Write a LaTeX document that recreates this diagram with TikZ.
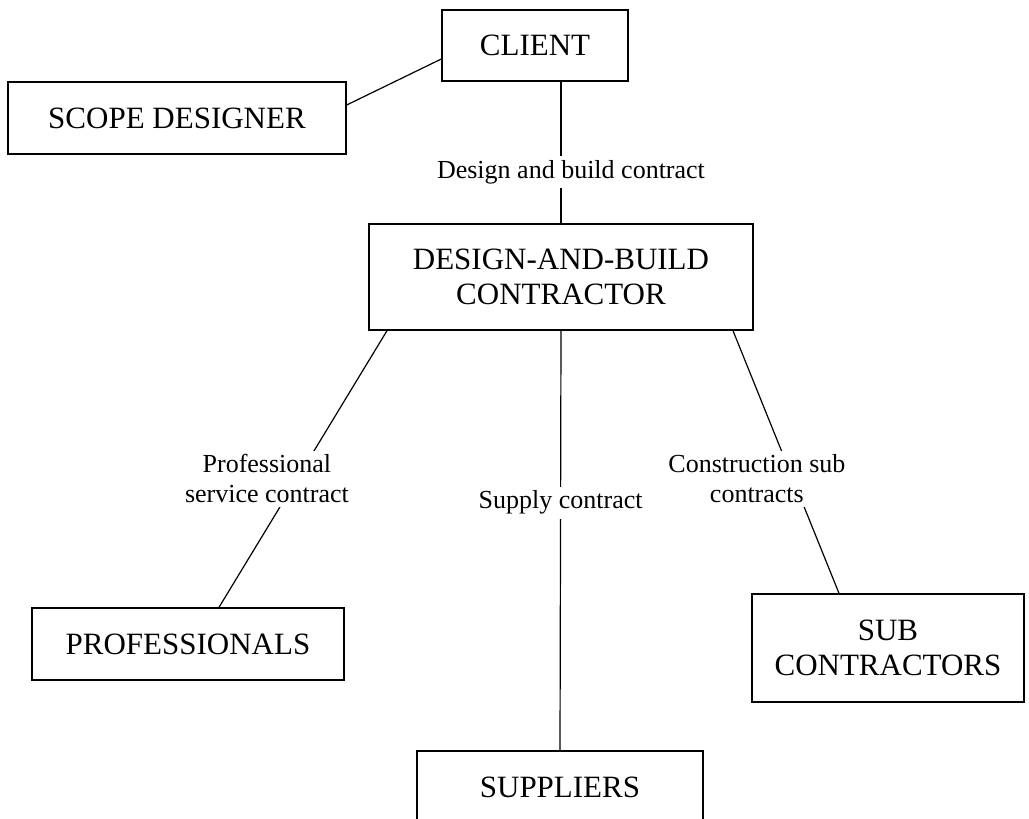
\documentclass[tikz,border=0pt]{standalone}
\usepackage{fontspec}
\setmainfont{Liberation Serif}

\begin{document}
\begin{tikzpicture}[x=0.5pt,y=-0.5pt,
    box/.style={draw, line width=0.7pt, align=center, inner sep=0pt,
                font=\fontsize{15.5}{17.5}\selectfont},
    lbl/.style={fill=white, align=center, inner sep=2pt,
                font=\fontsize{13}{15}\selectfont}]
  \useasboundingbox (0,0) rectangle (1029,819);

  % Draw the boxes
  \node[box, minimum width=93pt, minimum height=35.5pt] (client) at (535,45.5) {CLIENT};
  \node[box, minimum width=169pt, minimum height=36pt] (scope) at (177,118) {SCOPE DESIGNER};
  \node[box, minimum width=192pt, minimum height=53pt] (dbc) at (561,277) {DESIGN-AND-BUILD\\CONTRACTOR};
  \node[box, minimum width=156pt, minimum height=36pt] (prof) at (188,644) {PROFESSIONALS};
  \node[box, minimum width=136pt, minimum height=54pt] (sub) at (888,648) {SUB\\CONTRACTORS};
  \node[box, minimum width=143pt, minimum height=36pt] (sup) at (560,787) {SUPPLIERS};

  % Draw the contract lines
  \draw[line width=0.6pt] ([yshift=6.5pt]scope.east) -- ([yshift=-6.75pt]client.west);
  \draw[line width=0.6pt] (client.south -| dbc.north) -- node[lbl, pos=0.64, xshift=5pt] {Design and build contract} (dbc.north);
  \draw[line width=0.6pt] ([xshift=-87pt]dbc.south) -- node[lbl, pos=0.536, xshift=-15pt] {Professional\\service contract} ([xshift=15.5pt]prof.north);
  \draw[line width=0.6pt] (dbc.south) -- node[lbl, pos=0.41] {Supply contract} (sup.north);
  \draw[line width=0.6pt] ([xshift=86pt]dbc.south) -- node[lbl, pos=0.565, xshift=-18pt] {Construction sub\\contracts} ([xshift=-24.5pt]sub.north);
\end{tikzpicture}
\end{document}
